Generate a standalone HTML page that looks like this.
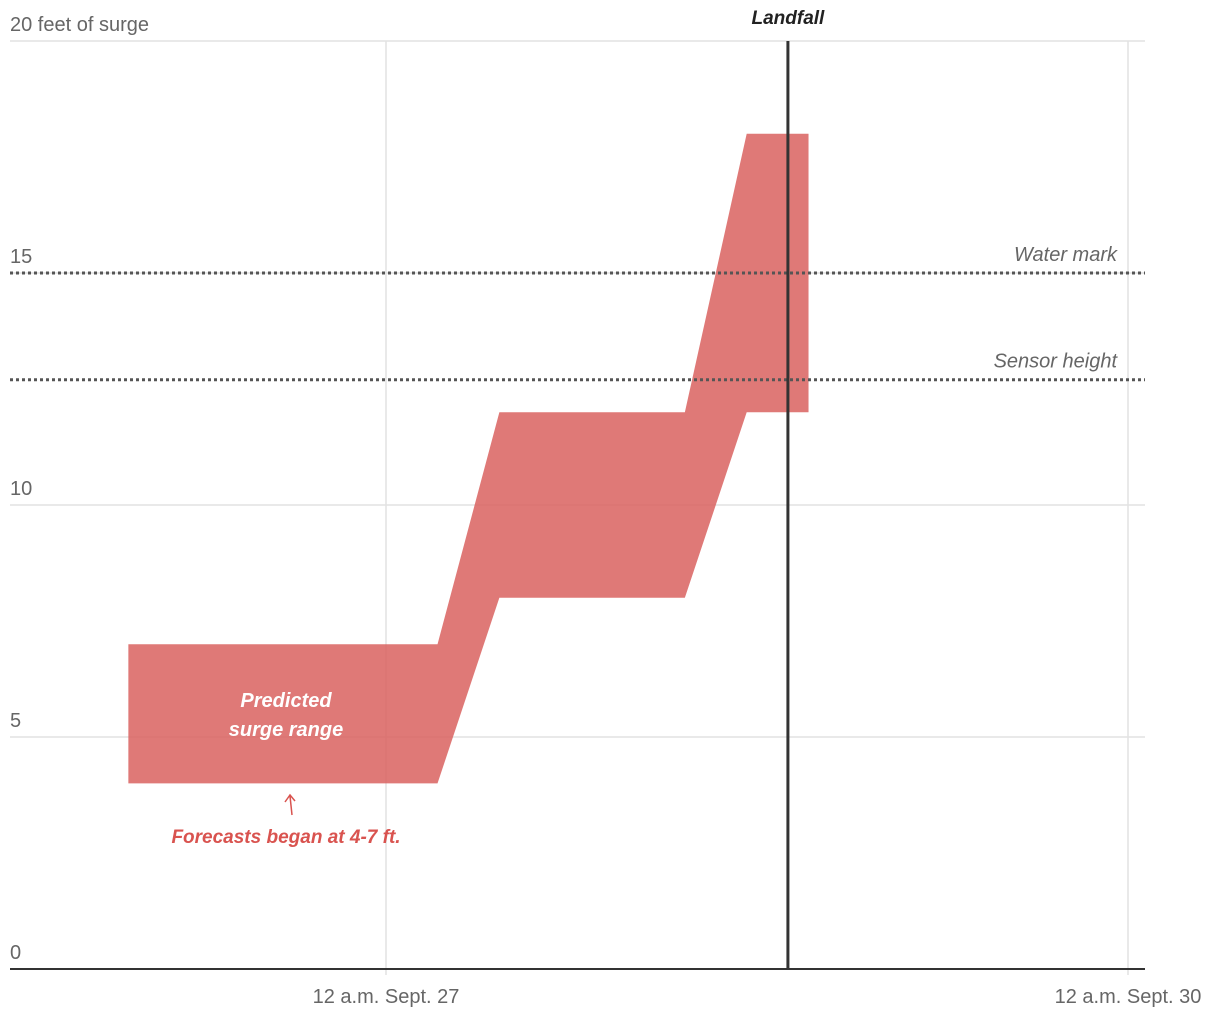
<!DOCTYPE html>
<html><head><meta charset="utf-8"><style>
html,body{margin:0;padding:0;background:#fff;}
svg{display:block;font-family:"Liberation Sans",sans-serif;}
</style></head><body>
<svg id="chart" width="1220" height="1020" viewBox="0 0 1220 1020"></svg>
<script>
const yTicks=[0,5,10,15,20];
const yTickLabels=["0","5","10","15","20 feet of surge"];
const xTicks=[0,72];
const xTickLabels=["12 a.m. Sept. 27","12 a.m. Sept. 30"];
const bandHours=[-25,5,11,29,35,41];
const bandHigh=[7,7,12,12,18,18];
const bandLow=[4,4,8,8,12,12];
const landfallHour=39;
const refValues=[15,12.7];
const refLabels=["Water mark","Sensor height"];

const NS="http://www.w3.org/2000/svg";
const svg=document.getElementById('chart');
const x=h=>386+h*(1128-386)/72;
const y=v=>969-v*(969-41)/20;
function mk(tag,attrs,parent){const e=document.createElementNS(NS,tag);for(const k in attrs)e.setAttribute(k,attrs[k]);(parent||svg).appendChild(e);return e;}

yTicks.forEach((t,i)=>{
  if(t>0){const l=mk('line',{x1:10,x2:1145,y1:y(t),y2:y(t),stroke:'#e2e2e2','stroke-width':1.5});
  
  }
  const tx=mk('text',{x:10,y:y(t)-10,'font-size':20,fill:'#666'});
  tx.textContent=yTickLabels[i];
  
  
});
xTicks.forEach((t,i)=>{
  const l=mk('line',{x1:x(t),x2:x(t),y1:41,y2:975,stroke:'#e2e2e2','stroke-width':1.5});
  
  
  const tx=mk('text',{x:x(t),y:1003,'font-size':20,fill:'#666','text-anchor':'middle'});
  tx.textContent=xTickLabels[i];
  
  
});
const axis=mk('line',{x1:10,x2:1145,y1:y(0),y2:y(0),stroke:'#333','stroke-width':2});



let pts=bandHours.map((h,i)=>x(h)+','+y(bandHigh[i]));
for(let i=bandHours.length-1;i>=0;i--)pts.push(x(bandHours[i])+','+y(bandLow[i]));
const band=mk('polygon',{points:pts.join(' '),fill:'#d9615f','fill-opacity':0.85});



refValues.forEach((v,i)=>{
  const l=mk('line',{x1:10,x2:1145,y1:y(v),y2:y(v),stroke:'#555','stroke-width':3,'stroke-dasharray':'3,3'});
  
  
  const t=mk('text',{x:1117,y:y(v)-12,'font-size':20,'font-style':'italic',fill:'#666','text-anchor':'end'});
  t.textContent=refLabels[i];
  
  
});

const lf=mk('line',{x1:x(landfallHour),x2:x(landfallHour),y1:41,y2:969,stroke:'#333','stroke-width':3});


const lft=mk('text',{x:x(landfallHour),y:24,'font-size':19,'font-weight':'bold','font-style':'italic',fill:'#222','text-anchor':'middle'});
lft.textContent='Landfall';



['Predicted','surge range'].forEach((s,i)=>{
  const t=mk('text',{x:286,y:707+i*29,'font-size':20,'font-weight':'bold','font-style':'italic',fill:'#fff','text-anchor':'middle'});
  t.textContent=s;
  
  
});
const ar=mk('path',{d:'M292,815 L290,796 M285,802 L290,795 L295,801',stroke:'#d9534f','stroke-width':1.5,fill:'none'});


const an=mk('text',{x:286,y:843,'font-size':19,'font-weight':'bold','font-style':'italic',fill:'#d9534f','text-anchor':'middle'});
an.textContent='Forecasts began at 4-7 ft.';


</script>
</body></html>
